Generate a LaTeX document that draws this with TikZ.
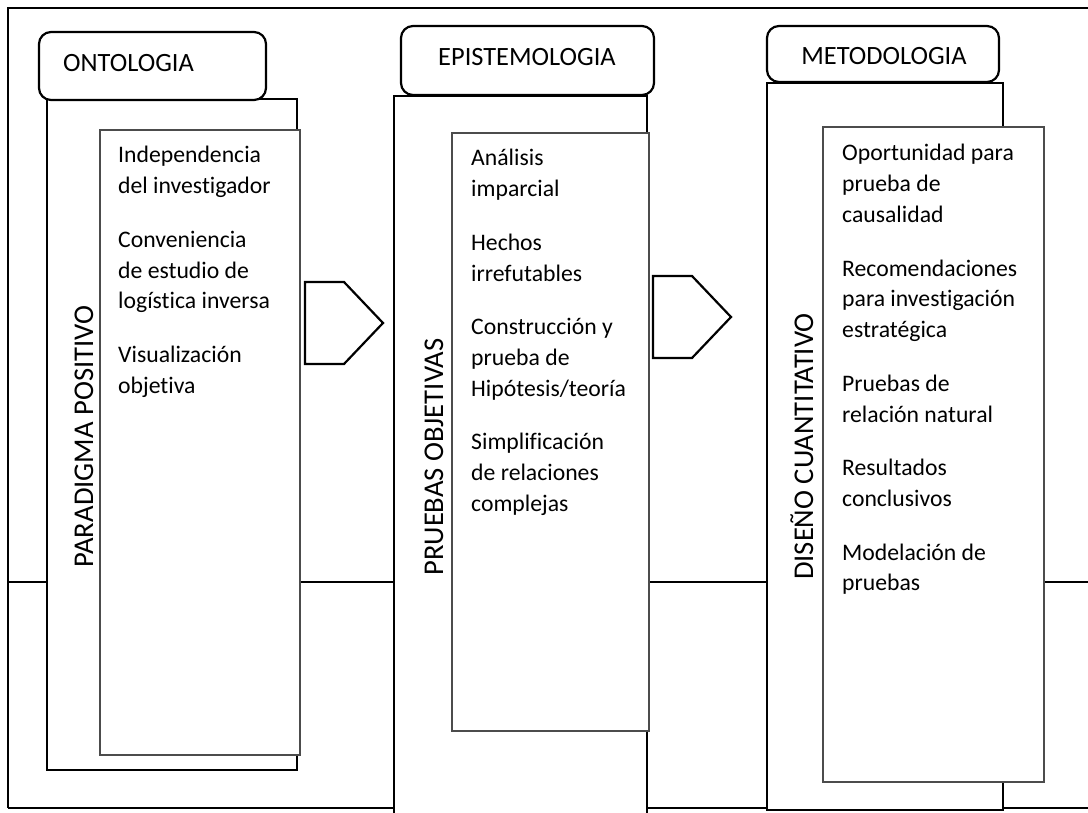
\documentclass[tikz,border=0pt]{standalone}
\usepackage{fontspec}
\setmainfont{Carlito}[Ligatures=NoCommon]

% one line of an item list, and the gap between two items
\newcommand\itemline[1]{\hbox{#1}}
\newcommand\itemgap{\vskip22.8pt}

\tikzset{
  frameline/.style={line width=1.8pt, black},
  tabbox/.style={draw, line width=2.2pt, rounded corners=12pt, fill=white,
                 inner sep=0pt, outer sep=0pt, anchor=north west},
  outerbox/.style={draw, line width=2.4pt, fill=white,
                   inner sep=0pt, outer sep=0pt, anchor=north west},
  innerbox/.style={draw=black!70, line width=1.3pt, fill=white,
                   inner sep=0pt, outer sep=0pt, anchor=north west},
  heading/.style={font=\fontsize{26.4}{32}\selectfont, inner sep=0pt, anchor=base},
  sidelabel/.style={font=\fontsize{28.6}{34}\selectfont, inner sep=0pt,
                    rotate=90, anchor=base},
  itemtext/.style={font=\fontsize{23.7}{30.8}\selectfont, inner sep=0pt,
                   anchor=base west},
  flowarrow/.style={draw, line width=2.2pt, fill=white, line join=miter},
}

\begin{document}
\begin{tikzpicture}[x=1pt, y=-1pt]
\useasboundingbox (0,0) rectangle (1088,813);
\clip (0,0) rectangle (1088,813);

% background table frame
\draw[frameline] (8,808) -- (8,8) -- (1100,8);
\draw[frameline] (8,808) -- (1100,808);
\draw[frameline] (8,582) -- (1100,582);

% ---------- ontology column ----------
\node[outerbox, minimum width=250pt, minimum height=671pt] (ontOuter) at (47,99) {};
\node[innerbox, minimum width=200pt, minimum height=625pt] (ontInner) at (100,130) {};
\node[tabbox, minimum width=227pt, minimum height=68pt] (ontTab) at (39,32) {};
\node[heading, anchor=base west] (ontTitle) at (63,72) {ONTOLOGIA};
\node[sidelabel] (ontSide) at (93,436.5) {PARADIGMA POSITIVO};
\node[itemtext] (ontItems) at (118,163) {\vtop{%
  \itemline{Independencia}\itemline{del investigador}\itemgap
  \itemline{Conveniencia}\itemline{de estudio de}\itemline{logística inversa}\itemgap
  \itemline{Visualización}\itemline{objetiva}}};

% ---------- epistemology column ----------
\node[outerbox, minimum width=253pt, minimum height=740pt] (epiOuter) at (394,96) {};
\node[innerbox, minimum width=197pt, minimum height=598pt] (epiInner) at (452,133) {};
\node[tabbox, minimum width=253pt, minimum height=69pt] (epiTab) at (401,26) {};
\node[heading] (epiTitle) at (527,66) {EPISTEMOLOGIA};
\node[sidelabel] (epiSide) at (443,457) {PRUEBAS OBJETIVAS};
\node[itemtext] (epiItems) at (471,166) {\vtop{%
  \itemline{Análisis}\itemline{imparcial}\itemgap
  \itemline{Hechos}\itemline{irrefutables}\itemgap
  \itemline{Construcción y}\itemline{prueba de}\itemline{Hipótesis/teoría}\itemgap
  \itemline{Simplificación}\itemline{de relaciones}\itemline{complejas}}};

% ---------- methodology column ----------
\node[outerbox, minimum width=236pt, minimum height=727pt] (metOuter) at (767,83) {};
\node[innerbox, minimum width=221pt, minimum height=655pt] (metInner) at (823,127) {};
\node[tabbox, minimum width=232pt, minimum height=56pt] (metTab) at (767,26) {};
\node[heading] (metTitle) at (884,65) {METODOLOGIA};
\node[sidelabel] (metSide) at (813,446.5) {DISEÑO CUANTITATIVO};
\node[itemtext] (metItems) at (842,161) {\vtop{%
  \itemline{Oportunidad para}\itemline{prueba de}\itemline{causalidad}\itemgap
  \itemline{Recomendaciones}\itemline{para investigación}\itemline{estratégica}\itemgap
  \itemline{Pruebas de}\itemline{relación natural}\itemgap
  \itemline{Resultados}\itemline{conclusivos}\itemgap
  \itemline{Modelación de}\itemline{pruebas}}};

% pentagon arrows between the columns
\draw[flowarrow] (305,282) -- (344,282) -- (383,323) -- (344,364) -- (305,364) -- cycle;
\draw[flowarrow] (653,276) -- (692,276) -- (731,317) -- (692,358) -- (653,358) -- cycle;
\end{tikzpicture}
\end{document}
